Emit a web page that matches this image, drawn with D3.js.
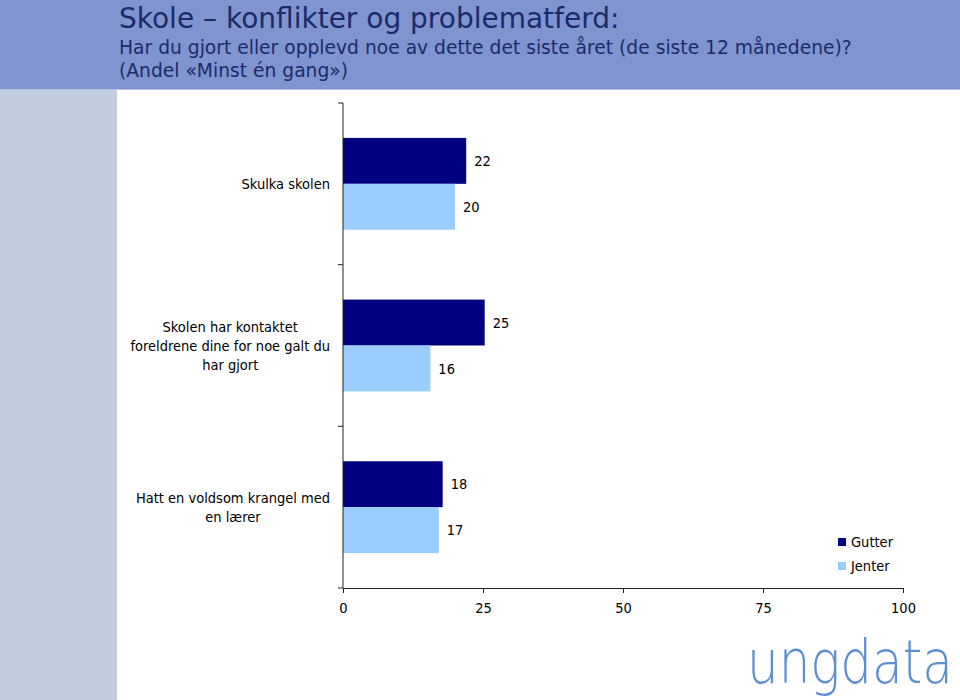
<!DOCTYPE html>
<html><head><meta charset="utf-8">
<script src="https://cdn.jsdelivr.net/npm/d3@7"></script>
<style>body{margin:0;background:#fff}svg{display:block}</style>
</head><body>
<svg id="c" width="960" height="700"></svg>
<script>
const categories = ["Skulka skolen", "Skolen har kontaktet\nforeldrene dine for noe galt du\nhar gjort", "Hatt en voldsom krangel med\nen lærer"];
const seriesNames = ["Gutter", "Jenter"];
const gutter = [22, 25.3, 17.8];
const jenter = [20, 15.6, 17.1];
const gutterLabels = ["22", "25", "18"];
const jenterLabels = ["20", "16", "17"];
const xTicks = [0, 25, 50, 75, 100];
const titleText = "Skole – konflikter og problematferd:";
const subtitle1 = "Har du gjort eller opplevd noe av dette det siste året (de siste 12 månedene)?";
const subtitle2 = "(Andel «Minst én gang»)";

const FONT = "'DejaVu Sans Condensed', 'DejaVu Sans', sans-serif";
const HFONT = "'DejaVu Sans', sans-serif";
const colors = {Gutter: "#000080", Jenter: "#99ccff"};
const svg = d3.select("#c");

svg.append("rect").attr("x",0).attr("y",0).attr("width",960).attr("height",89).attr("fill","#8094d0");
svg.append("rect").attr("x",0).attr("y",89).attr("width",960).attr("height",1).attr("fill","#b8c2e6");
svg.append("rect").attr("x",0).attr("y",90).attr("width",117).attr("height",610).attr("fill","#c2cde0");

svg.append("text").attr("x",119).attr("y",28).attr("font-family",HFONT).attr("font-size",28).attr("fill","#1c2a6c").text(titleText);
svg.append("text").attr("x",119).attr("y",54).attr("font-family",HFONT).attr("font-size",18.7).attr("fill","#1c2a6c").text(subtitle1);
svg.append("text").attr("x",119).attr("y",77).attr("font-family",HFONT).attr("font-size",18.7).attr("fill","#1c2a6c").text(subtitle2);

const x = d3.scaleLinear().domain([0,100]).range([343,903]);
const y = d3.scaleBand().domain(categories).range([103,588]).paddingInner(0.432).paddingOuter(0.216);
const ys = d3.scaleBand().domain(seriesNames).range([0, y.bandwidth()]);

const data = categories.map((c,i)=>({c, vals:[{s:"Gutter",v:gutter[i],l:gutterLabels[i]},{s:"Jenter",v:jenter[i],l:jenterLabels[i]}]}));

const g = svg.append("g");
const groups = g.selectAll("g.cat").data(data).join("g").attr("transform",d=>`translate(0,${y(d.c)})`);
groups.selectAll("rect").data(d=>d.vals).join("rect")
  .attr("x",x(0)).attr("y",d=>ys(d.s)).attr("width",d=>x(d.v)-x(0)).attr("height",ys.bandwidth())
  .attr("fill",d=>colors[d.s]);
groups.selectAll("text.val").data(d=>d.vals).join("text").attr("class","val")
  .attr("x",d=>x(d.v)+8).attr("y",d=>ys(d.s)+ys.bandwidth()/2).attr("dy","0.35em")
  .attr("font-family",FONT).attr("font-size",14.5).attr("fill","#000").text(d=>d.l);

// y axis
const y0 = y.range()[0], y1 = y.range()[1];
svg.append("line").attr("x1",x(0)).attr("x2",x(0)).attr("y1",y0).attr("y2",y1).attr("stroke","#222");
const bounds = d3.range(categories.length+1).map(i=>y0 + i*y.step());
svg.selectAll("line.yt").data(bounds).join("line").attr("class","yt")
  .attr("x1",x(0)-5).attr("x2",x(0)).attr("y1",d=>d).attr("y2",d=>d).attr("stroke","#222");

// x axis
const xa = svg.append("g").attr("transform",`translate(0,${y1})`)
  .call(d3.axisBottom(x).tickValues(xTicks).tickSize(5).tickSizeOuter(0).tickPadding(10));
xa.select(".domain").attr("stroke","#222");
xa.selectAll(".tick line").attr("stroke","#222");
xa.selectAll(".tick text").attr("font-family",FONT).attr("font-size",14.5).attr("fill","#000");

// category labels
data.forEach(d=>{
  const lines = d.c.split("\n");
  const lh = 19;
  const cy = y(d.c) + y.bandwidth()/2;
  const t = svg.append("text").attr("font-family",FONT).attr("font-size",14.5).attr("fill","#000").attr("text-anchor","middle");
  lines.forEach((ln,i)=>{
    t.append("tspan").attr("y", cy + (i - (lines.length-1)/2)*lh).attr("dy","0.35em").text(ln);
  });
  let maxW = 0;
  t.selectAll("tspan").each(function(){maxW = Math.max(maxW, this.getComputedTextLength());});
  t.selectAll("tspan").attr("x", 330 - maxW/2);
});

// legend
const lg = svg.append("g");
seriesNames.forEach((s,i)=>{
  lg.append("rect").attr("x",838).attr("y",538+i*24).attr("width",8).attr("height",8).attr("fill",colors[s]);
  lg.append("text").attr("x",851).attr("y",542+i*24).attr("dy","0.35em").attr("font-family",FONT).attr("font-size",14.5).attr("fill","#000").text(s);
});

// logo
const logo = svg.append("text").attr("x",0).attr("y",0).attr("font-family","'DejaVu Sans', sans-serif").attr("font-weight",200)
  .attr("font-size",50).attr("fill","#5b8fd0").text("ungdata");
const lw = logo.node().getComputedTextLength();
const sx = Math.min(1, 208/lw);
logo.attr("transform",`translate(747,683) scale(${sx},${1.2})`);
</script>
</body></html>
